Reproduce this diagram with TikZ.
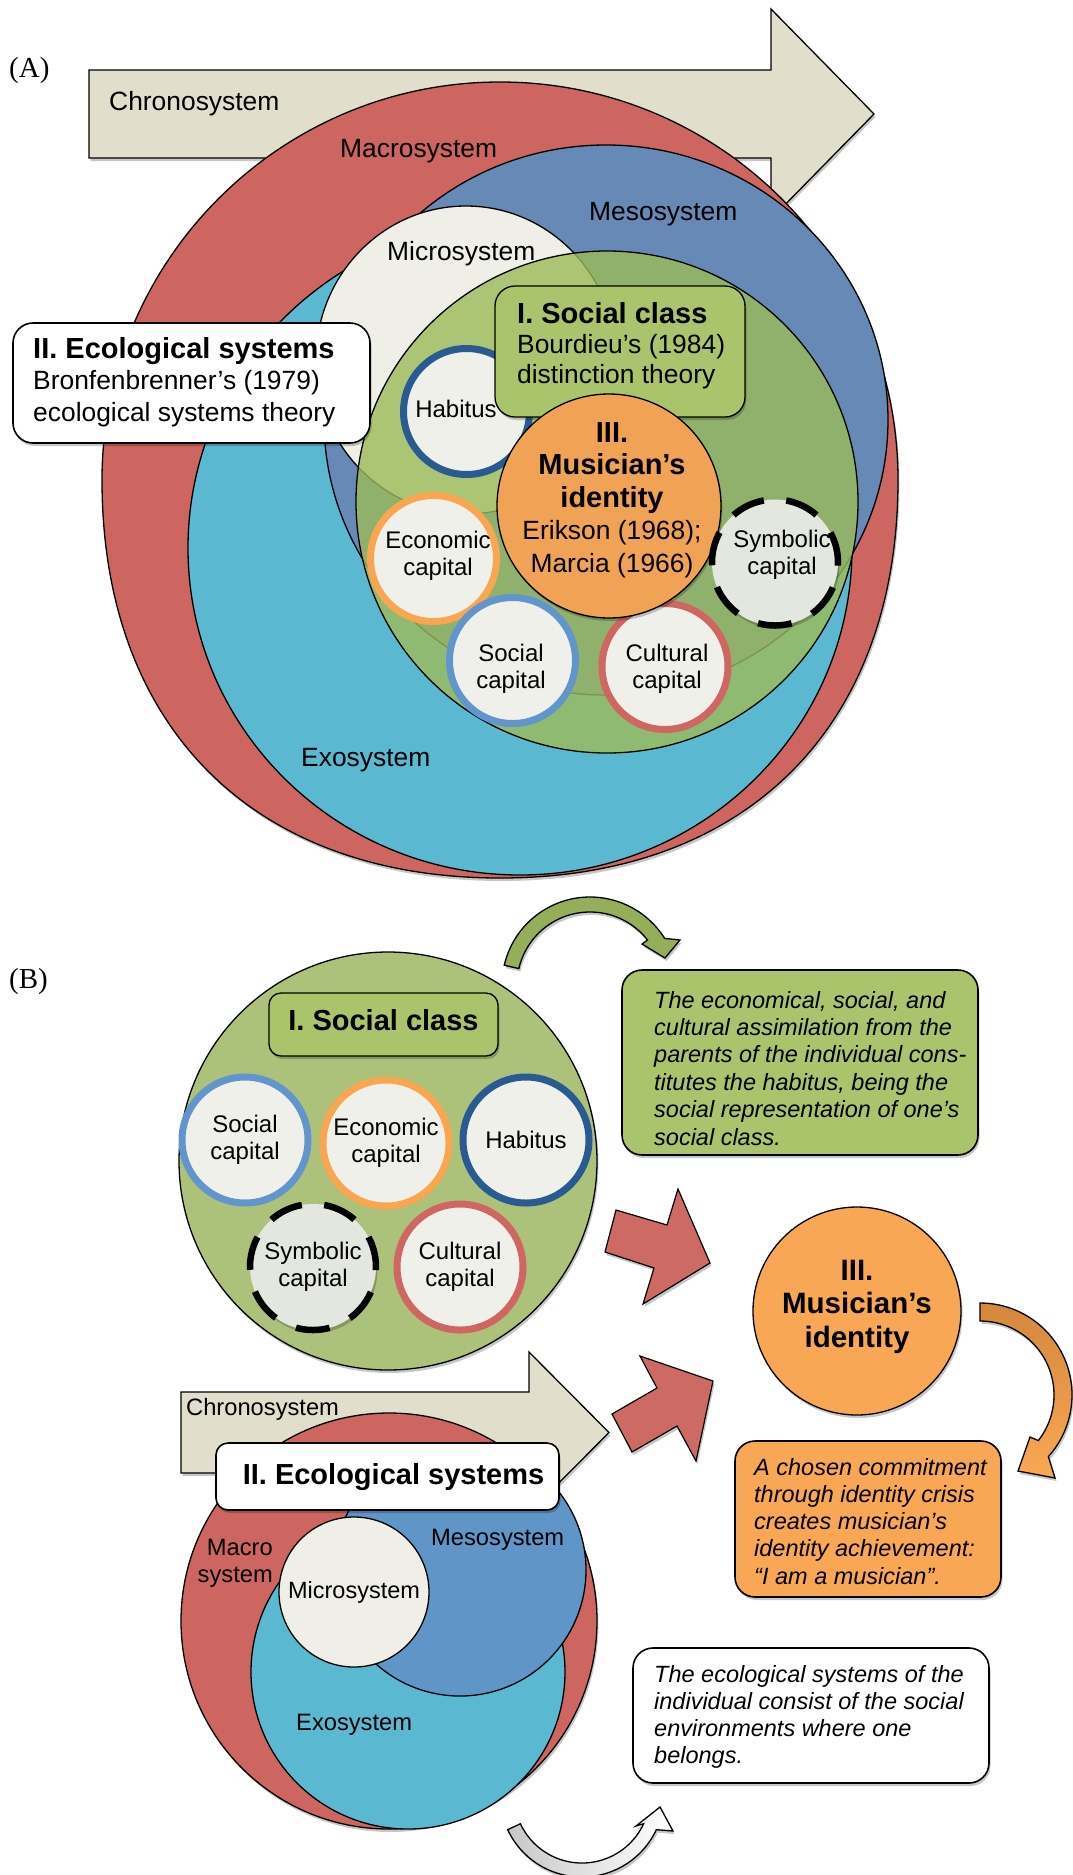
\documentclass[tikz,border=0pt]{standalone}
\usepackage{fontspec}
\setmainfont{Liberation Sans}
\newfontfamily\panelfont{Liberation Serif}
\usetikzlibrary{shadows,calc}
\definecolor{chronoC}{RGB}{225,223,204}
\definecolor{macroC}{RGB}{205,102,96}
\definecolor{mesoA}{RGB}{102,137,182}
\definecolor{mesoB}{RGB}{96,149,200}
\definecolor{exoC}{RGB}{91,184,209}
\definecolor{microC}{RGB}{239,239,231}
\definecolor{sclassA}{RGB}{155,187,89}
\definecolor{sclassB}{RGB}{172,194,122}
\definecolor{boxG}{RGB}{170,196,107}
\definecolor{musA}{RGB}{240,163,84}
\definecolor{musB}{RGB}{248,167,84}
\definecolor{capF}{RGB}{240,240,235}
\definecolor{symF}{RGB}{228,231,224}
\definecolor{habR}{RGB}{41,90,145}
\definecolor{ecoR}{RGB}{248,166,82}
\definecolor{socR}{RGB}{98,149,204}
\definecolor{culR}{RGB}{207,102,97}
\definecolor{redArr}{RGB}{205,106,100}
\definecolor{gArr}{RGB}{148,174,90}
\definecolor{oArrTop}{RGB}{212,136,60}
\definecolor{oArrBot}{RGB}{250,168,84}
\begin{document}
\begin{tikzpicture}[x=1pt,y=-1pt,
  shd/.style={drop shadow={shadow xshift=1.5pt,shadow yshift=-3pt,opacity=0.22,fill=black}},
  outl/.style={draw=black,line width=1.3pt},
  lblA/.style={inner sep=0pt,anchor=base west,font=\fontsize{26.4}{31.5}\selectfont},
  lblB/.style={inner sep=0pt,anchor=base west,font=\fontsize{23.7}{27}\selectfont},
  captxt/.style={inner sep=0pt,align=center,font=\fontsize{24}{27}\selectfont},
  capring/.style={circle,minimum size=126pt,inner sep=0pt,line width=7pt,fill=capF,draw=#1,shd,align=center,font=\fontsize{24}{27}\selectfont},
  symring/.style={circle,minimum size=126pt,inner sep=0pt,line width=6.5pt,fill=symF,draw=black,dash pattern=on 34pt off 22.5pt,dash phase=2.8pt,shd,align=center,font=\fontsize{24}{27}\selectfont},
  tbox/.style={draw=black,line width=1.6pt,rounded corners=20pt,shd,inner sep=0pt},
  redarrow/.style={fill=redArr,draw=black,line width=1.2pt,shd}
]
\useasboundingbox (0,0) rectangle (1073,1875);
\fill[white] (0,0) rectangle (1073,1875);

% ================= Panel A =================
\node[inner sep=0pt,anchor=base west,font=\panelfont\fontsize{29}{32}\selectfont] (labA) at (9,77) {(A)};

\draw[fill=chronoC,outl,shd] (89,70) -- (771,70) -- (771,9) -- (874,114) -- (771,219) -- (771,158) -- (89,158) -- cycle;
\node[lblA] (chronoA) at (109,110) {Chronosystem};

% macrosystem (egg shaped)
\draw[fill=macroC,outl,shd] (102,480) arc[start angle=180,end angle=360,radius=398]
  .. controls (898,726.8) and (746.8,878) .. (500,878)
  .. controls (253.2,878) and (102,726.8) .. (102,480) -- cycle;
% exosystem
\draw[fill=exoC,outl] (520,548) ellipse [x radius=332, y radius=327];
% mesosystem
\draw[fill=mesoA,outl] (606,420) ellipse [x radius=282, y radius=275];
% microsystem
\draw[fill=microC,outl] (466,360) ellipse [x radius=150, y radius=154];
% social class area
\draw[fill=sclassA,fill opacity=0.8,outl] (607,502) circle [radius=251];

\node[lblA] (macroA) at (340,157) {Macrosystem};
\node[lblA] (mesoA) at (589,220) {Mesosystem};
\node[lblA] (microA) at (387,260) {Microsystem};
\node[lblA] (exoA) at (301,766) {Exosystem};

% capitals A
\node[capring=habR] (habA) at (466.5,411.5) {};
\node[captxt] (habAt) at (456,409) {Habitus};
\node[capring=ecoR] (ecoA) at (433.5,558.5) {};
\node[captxt] (ecoAt) at (438,556) {Economic\\capital};
\node[capring=socR] (socA) at (512.5,660.5) {};
\node[captxt] (socAt) at (511,669) {Social\\capital};
\node[capring=culR] (culA) at (665,666.5) {};
\node[captxt] (culAt) at (667,669) {Cultural\\capital};

% social class box A
\node[tbox,line width=1.3pt,fill=boxG,minimum width=250pt,minimum height=131pt] (scboxA) at (620,351.5) {};
\node[inner sep=0pt,anchor=base west] (scboxAt) at (517,323) {\parbox[t]{230pt}{\raggedright\fontsize{26.4}{30}\selectfont{\bfseries\fontsize{29}{30}\selectfont I. Social class}\\Bourdieu’s (1984)\\distinction theory}};

% musician's identity A
\node[circle,minimum size=224pt,inner sep=0pt,fill=musA,outl,shd] (musAc) at (609,506) {};
\node[inner sep=0pt,anchor=base] (musAt) at (612,442) {\parbox[t]{220pt}{\centering\fontsize{26.4}{32.5}\selectfont{\bfseries\fontsize{29}{32.5}\selectfont III.\\Musician’s\\identity\\}Erikson (1968);\\Marcia (1966)}};

\node[symring] (symA) at (775,562.5) {};
\node[captxt] (symAt) at (782,555) {Symbolic\\capital};

% ecological systems box A
\node[tbox,fill=white,minimum width=357pt,minimum height=120pt] (ecoboxA) at (191.5,383) {};
\node[inner sep=0pt,anchor=base west] (ecoboxAt) at (33,358) {\parbox[t]{340pt}{\raggedright\fontsize{26.4}{31.5}\selectfont{\bfseries\fontsize{29}{31.5}\selectfont II. Ecological systems}\\Bronfenbrenner’s (1979)\\ecological systems theory}};

% ================= Panel B =================
\node[inner sep=0pt,anchor=base west,font=\panelfont\fontsize{29}{32}\selectfont] (labB) at (9,988) {(B)};

% green curved arrow
\coordinate (gc) at (590,985);
\draw[fill=gArr,outl,shd] ($(gc)+(-167:88)$) arc[start angle=-167,end angle=-32,radius=88]
  -- (680,940) -- (665,958) -- (642,944) -- ($(gc)+(-38:73)$)
  arc[start angle=-38,end angle=-167,radius=73] -- cycle;

% social class circle B
\node[circle,minimum size=418pt,inner sep=0pt,fill=sclassB,outl,shd] (scB) at (388,1161) {};
\node[tbox,line width=1.3pt,rounded corners=12pt,fill=boxG,minimum width=229pt,minimum height=63pt] (scboxB) at (383.5,1024.5) {};
\node[inner sep=0pt,anchor=base,font=\bfseries\fontsize{29}{32}\selectfont] (scboxBt) at (383.5,1030) {I. Social class};

\node[capring=socR] (socB) at (245,1140) {Social\\capital};
\node[capring=ecoR] (ecoB) at (386,1143) {Economic\\capital};
\node[capring=habR] (habB) at (526,1140) {Habitus};
\node[symring] (symB) at (313,1267) {Symbolic\\capital};
\node[capring=culR] (culB) at (460,1267) {Cultural\\capital};

% green text box
\node[tbox,fill=boxG,minimum width=356pt,minimum height=185pt] (gbox) at (800,1062.5) {};
\node[inner sep=0pt,anchor=base west] (gboxt) at (654,1008) {\parbox[t]{330pt}{\raggedright\itshape\fontsize{23.5}{27.4}\selectfont The economical, social, and\\cultural assimilation from the\\parents of the individual cons-\\titutes the habitus, being the\\social representation of one’s\\social class.}};

% red arrows
\draw[redarrow] (616,1210) -- (667,1225) -- (678,1189) -- (710,1263) -- (643,1304) -- (654,1268) -- (605,1252) -- cycle;
\draw[redarrow] (612,1414) -- (657,1388) -- (640,1356) -- (713,1381) -- (696,1461) -- (677,1426) -- (632,1452) -- cycle;

% musician's identity B
\node[circle,minimum size=208pt,inner sep=0pt,fill=musB,outl,shd] (musBc) at (857,1311) {};
\node[inner sep=0pt,anchor=base] (musBt) at (857,1280) {\parbox[t]{200pt}{\centering\bfseries\fontsize{29.5}{33.5}\selectfont III.\\Musician’s\\identity}};

% orange curved arrow
\coordinate (oc) at (980,1395);
\draw[outl,top color=oArrTop,bottom color=oArrBot,shd] ($(oc)+(-90:92)$) arc[start angle=-90,end angle=42,radius=92]
  -- (1055,1478) -- (1018,1471) -- (1030,1437) -- ($(oc)+(38:74)$)
  arc[start angle=38,end angle=-90,radius=74] -- cycle;

% orange text box
\node[tbox,fill=musB,minimum width=266pt,minimum height=156pt] (obox) at (868,1519) {};
\node[inner sep=0pt,anchor=base west] (oboxt) at (754,1475) {\parbox[t]{250pt}{\raggedright\itshape\fontsize{23.5}{27.3}\selectfont A chosen commitment\\through identity crisis\\creates musician’s\\identity achievement:\\“I am a musician”.}};

% ecological systems B
\draw[fill=chronoC,outl,shd] (181,1392) -- (529,1392) -- (529,1352) -- (609,1432.5) -- (529,1513) -- (529,1473) -- (181,1473) -- cycle;
\node[lblB] (chronoB) at (186,1415) {Chronosystem};
\node[circle,minimum size=416pt,inner sep=0pt,fill=macroC,outl,shd] (macroB) at (389,1621) {};
\node[circle,minimum size=314pt,inner sep=0pt,fill=exoC,outl] (exoB) at (408,1672) {};
\node[circle,minimum size=252pt,inner sep=0pt,fill=mesoB,outl] (mesoB) at (460,1570) {};
\node[circle,minimum size=150pt,inner sep=0pt,fill=microC,outl,font=\fontsize{23.5}{27}\selectfont] (microB) at (354,1592) {Microsystem};
\node[inner sep=0pt,anchor=base east] (macroBt) at (273,1555) {\parbox[t]{90pt}{\raggedleft\fontsize{23.7}{27}\selectfont Macro\\system}};
\node[lblB] (mesoBt) at (431,1545) {Mesosystem};
\node[lblB] (exoBt) at (296,1730) {Exosystem};
\node[tbox,fill=white,rounded corners=12pt,minimum width=343pt,minimum height=67pt] (ecoboxB) at (387.5,1476.5) {};
\node[inner sep=0pt,anchor=base,font=\bfseries\fontsize{29}{32}\selectfont] (ecoboxBt) at (393.5,1484) {II. Ecological systems};

% white text box
\node[tbox,fill=white,minimum width=356pt,minimum height=135pt] (wbox) at (811,1715.5) {};
\node[inner sep=0pt,anchor=base west] (wboxt) at (654,1682) {\parbox[t]{330pt}{\raggedright\itshape\fontsize{23.5}{27.3}\selectfont The ecological systems of the\\individual consist of the social\\environments where one\\belongs.}};

% white curved arrow
\coordinate (wc) at (582,1795);
\draw[outl,left color=black!22,right color=white,shd] ($(wc)+(155:82)$) arc[start angle=155,end angle=25,radius=82]
  -- (673,1831) -- (660,1807) -- (636,1826) -- ($(wc)+(25:68)$)
  arc[start angle=25,end angle=155,radius=68] -- cycle;
\end{tikzpicture}
\end{document}
